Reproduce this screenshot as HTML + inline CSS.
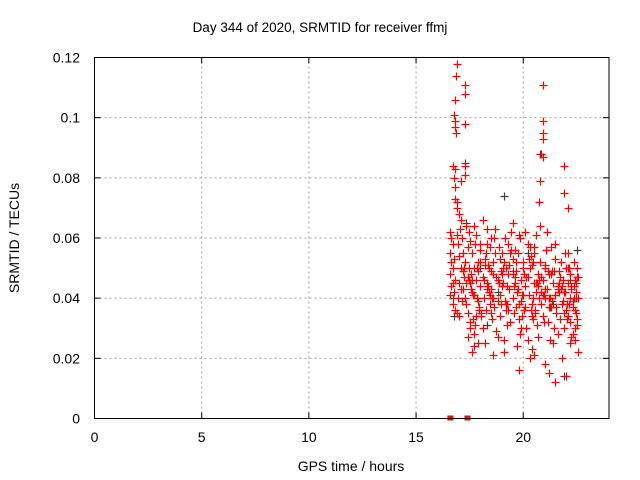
<!DOCTYPE html>
<html><head><meta charset="utf-8"><style>
body{margin:0;background:#fff;}
svg{display:block;font-family:"Liberation Sans",sans-serif;}
</style></head><body>
<svg id="chart" width="640" height="480">
<rect width="640" height="480" fill="#fff"/>
<text x="320" y="32" font-size="13.5" text-anchor="middle">Day 344 of 2020, SRMTID for receiver ffmj</text>
<g id="grid"></g>
<g id="ticks"></g>
<g id="pts"></g>
<rect x="94.5" y="57.5" width="514.5" height="361" fill="none" stroke="#000" stroke-width="1"/>
<text x="351" y="471" font-size="14" text-anchor="middle">GPS time / hours</text>
<text x="0" y="0" font-size="14" text-anchor="middle" transform="translate(19,238) rotate(-90)">SRMTID / TECUs</text>
</svg>
<script>
const xTicks=[0,5,10,15,20];
const yTicks=[0,0.02,0.04,0.06,0.08,0.1,0.12];
const yTickLabels=["0","0.02","0.04","0.06","0.08","0.1","0.12"];
const redT=[16.9,16.85,16.8,17.3,17.3,16.75,16.8,16.8,16.85,17.3,20.9,20.9,20.9,20.9,20.85,20.9,21.9,21.9,20.8,20.75,16.7,16.8,17.3,17.3,16.8,16.75,16.8,16.9,17.1,22.1,
16.6,16.65,16.7,16.6,16.75,16.65,16.7,16.6,16.8,16.7,16.65,16.75,16.6,16.7,16.8,16.9,17.0,16.95,17.05,17.1,17.0,16.9,17.1,17.0,16.95,17.2,17.15,17.25,17.3,17.2,
17.35,17.4,17.45,17.5,17.3,17.4,17.5,17.6,17.55,17.45,17.35,17.6,17.7,17.65,17.75,17.8,17.7,17.9,17.85,17.95,18.0,17.8,17.9,18.0,17.6,17.7,17.5,17.4,17.8,17.9,
18.1,18.2,18.15,18.3,18.25,18.1,18.4,18.35,18.5,18.45,18.2,18.3,18.6,18.55,18.4,18.7,18.65,18.8,18.75,18.6,18.9,18.85,18.5,18.7,18.95,19.0,18.8,18.1,18.3,18.9,
19.1,19.05,19.2,19.15,19.3,19.25,19.4,19.35,19.5,19.45,19.1,19.2,19.6,19.55,19.3,19.7,19.65,19.4,19.8,19.75,19.9,19.85,19.5,20.0,19.95,19.6,19.7,19.8,19.9,20.0,
20.1,20.05,20.2,20.15,20.3,20.25,20.4,20.35,20.5,20.45,20.1,20.2,20.6,20.55,20.3,20.7,20.65,20.4,20.8,20.75,20.9,20.85,20.5,21.0,20.95,20.6,20.7,20.8,20.9,21.0,
21.1,21.05,21.2,21.15,21.3,21.25,21.4,21.35,21.5,21.45,21.1,21.2,21.6,21.55,21.3,21.7,21.65,21.4,21.8,21.75,21.9,21.85,21.5,22.0,21.95,21.6,21.7,21.8,21.9,22.0,
22.1,22.05,22.2,22.15,22.3,22.25,22.4,22.35,22.5,22.45,22.1,22.2,22.55,22.5,22.3,22.4,22.2,22.35,22.45,22.55,22.1,22.25,22.4,22.5,22.3,
17.0,17.2,17.6,17.9,18.2,18.5,18.8,19.0,19.3,19.6,19.9,20.2,20.4,20.7,21.0,21.3,21.6,21.9,22.2,22.5,
17.1,17.4,17.7,18.0,18.3,18.6,18.9,19.2,19.5,19.8,20.1,20.4,20.6,20.9,21.2,21.5,21.8,22.1,22.4,16.9,
18.05,18.45,18.85,19.25,19.65,20.05,20.45,20.85,21.25,21.65,22.05,22.45,17.45,17.85,18.25,18.65,19.05,19.45,19.85,20.25,20.65,21.05,21.45,21.85,22.25,
21.5,21.2,22.0,19.8,20.3,20.5,21.0,19.1,18.6,17.7,
17.15,17.55,17.95,18.35,18.75,19.15,19.55,19.95,20.35,20.75,21.15,21.55,21.95,22.35,17.25,17.65,18.05,18.45,18.85,19.25,19.65,20.05,20.45,20.85,21.25,21.65,22.05,22.45,
17.35,17.75,18.15,18.55,18.95,19.35,19.75,20.15,20.55,20.95,21.35,21.75,22.15,22.55,17.5,18.0,18.5,19.0,19.5,20.0,20.5,21.0,21.5,22.0];
const redV=[0.118,0.114,0.106,0.111,0.108,0.101,0.099,0.097,0.095,0.098,0.111,0.099,0.095,0.093,0.088,0.087,0.084,0.075,0.079,0.072,0.084,0.083,0.084,0.081,0.077,0.080,0.073,0.072,0.079,0.070,
0.062,0.060,0.058,0.055,0.053,0.052,0.050,0.048,0.046,0.045,0.044,0.042,0.041,0.038,0.036,0.035,0.034,0.058,0.063,0.066,0.068,0.070,0.050,0.045,0.040,0.055,0.060,0.047,0.052,0.043,
0.064,0.057,0.050,0.045,0.040,0.035,0.030,0.055,0.048,0.062,0.038,0.042,0.050,0.033,0.058,0.046,0.028,0.052,0.040,0.036,0.044,0.061,0.025,0.056,0.022,0.064,0.032,0.027,0.034,0.049,
0.047,0.053,0.040,0.058,0.036,0.030,0.050,0.044,0.060,0.038,0.025,0.063,0.048,0.033,0.042,0.055,0.037,0.046,0.029,0.052,0.041,0.057,0.035,0.063,0.049,0.044,0.027,0.066,0.043,0.034,
0.052,0.045,0.038,0.060,0.048,0.031,0.055,0.043,0.040,0.062,0.026,0.050,0.047,0.035,0.058,0.042,0.052,0.032,0.038,0.055,0.046,0.028,0.065,0.041,0.034,0.056,0.024,0.061,0.030,0.052,
0.044,0.036,0.058,0.030,0.050,0.041,0.038,0.054,0.045,0.033,0.062,0.026,0.042,0.035,0.057,0.048,0.031,0.023,0.052,0.040,0.046,0.038,0.055,0.043,0.032,0.061,0.027,0.064,0.041,0.050,
0.043,0.056,0.037,0.032,0.048,0.026,0.045,0.039,0.053,0.030,0.062,0.040,0.044,0.035,0.057,0.033,0.049,0.025,0.038,0.052,0.030,0.046,0.041,0.036,0.055,0.028,0.047,0.020,0.042,0.050,
0.045,0.038,0.032,0.050,0.028,0.043,0.036,0.052,0.031,0.040,0.055,0.025,0.040,0.047,0.037,0.030,0.048,0.044,0.035,0.022,0.034,0.027,0.046,0.050,0.039,
0.054,0.049,0.046,0.039,0.051,0.043,0.039,0.048,0.036,0.045,0.039,0.047,0.034,0.044,0.040,0.037,0.043,0.035,0.040,0.033,
0.043,0.047,0.041,0.058,0.045,0.040,0.053,0.036,0.049,0.033,0.037,0.051,0.045,0.034,0.048,0.041,0.044,0.050,0.026,0.061,
0.034,0.041,0.045,0.044,0.037,0.048,0.040,0.047,0.037,0.042,0.038,0.045,0.046,0.050,0.055,0.060,0.050,0.056,0.060,0.053,0.045,0.056,0.049,0.039,0.044,
0.012,0.015,0.014,0.016,0.020,0.021,0.018,0.022,0.021,0.024,
0.039,0.043,0.037,0.051,0.047,0.039,0.044,0.041,0.036,0.046,0.049,0.037,0.042,0.040,0.050,0.041,0.035,0.057,0.045,0.038,0.049,0.036,0.052,0.042,0.040,0.045,0.033,0.042,
0.045,0.031,0.046,0.040,0.038,0.051,0.043,0.047,0.036,0.041,0.049,0.043,0.038,0.047,0.059,0.052,0.049,0.055,0.053,0.050,0.057,0.051,0.058,0.050];
const darkT=[16.7,16.75,17.3,17.35,18.0,18.8,19.5,20.2,20.8,21.4,21.9,22.2,22.5,19.1,18.3];
const darkV=[0.040,0.034,0.085,0.065,0.050,0.042,0.048,0.055,0.088,0.038,0.014,0.046,0.056,0.074,0.031];
const zeroT=[16.6,17.4];

const X0=94.5,X1=609,Y0=418.5,Y1=57.5;
const xs=t=>X0+(t/24)*(X1-X0);
const ys=v=>Y0-(v/0.12)*(Y0-Y1);
const NS="http://www.w3.org/2000/svg";
function mk(tag,attrs,parent){const e=document.createElementNS(NS,tag);for(const k in attrs)e.setAttribute(k,attrs[k]);parent.appendChild(e);return e;}
const grid=document.getElementById('grid'),ticks=document.getElementById('ticks'),pts=document.getElementById('pts');
xTicks.forEach((t,i)=>{const x=xs(t);
 if(i>0){const g=mk('line',{x1:x,x2:x,y1:Y0,y2:Y1,stroke:'#a0a0a0','stroke-dasharray':'2,3'},grid);
 
 }
 const tk=mk('line',{x1:x,x2:x,y1:Y0,y2:Y0-6,stroke:'#000'},ticks);
 
 
 const tk2=mk('line',{x1:x,x2:x,y1:Y1,y2:Y1+6,stroke:'#000'},ticks);
 
 
 const l=mk('text',{x:x,y:442,'font-size':14,'text-anchor':'middle'},ticks);l.textContent=String(t);
 
 
});
yTicks.forEach((v,i)=>{const y=ys(v);
 if(i>0&&i<yTicks.length-1){const g=mk('line',{x1:X0,x2:X1,y1:y,y2:y,stroke:'#a0a0a0','stroke-dasharray':'2,3'},grid);
 
 }
 const tk=mk('line',{x1:X0,x2:X0+6,y1:y,y2:y,stroke:'#000'},ticks);
 
 
 const tk2=mk('line',{x1:X1,x2:X1-6,y1:y,y2:y,stroke:'#000'},ticks);
 
 
 const l=mk('text',{x:80,y:y+5,'font-size':14,'text-anchor':'end'},ticks);l.textContent=yTickLabels[i];
 
 
});
function cross(t,v,col,name){const x=Math.round(xs(t))+0.5,y=Math.round(ys(v))+0.5;
 const p=mk('path',{d:`M${x-4} ${y}H${x+4}M${x} ${y-4}V${y+4}`,stroke:col,'stroke-width':1.2,fill:'none'},pts);
 
 }
darkT.forEach((t,i)=>cross(t,darkV[i],'#404040','dark-point'));
redT.forEach((t,i)=>cross(t,redV[i],'#ff0000','red-point'));
zeroT.forEach(t=>{const r=mk('rect',{x:xs(t)-3,y:Y0-3,width:6,height:5,fill:'#ff0000'},pts);
 
 });
</script>
</body></html>
